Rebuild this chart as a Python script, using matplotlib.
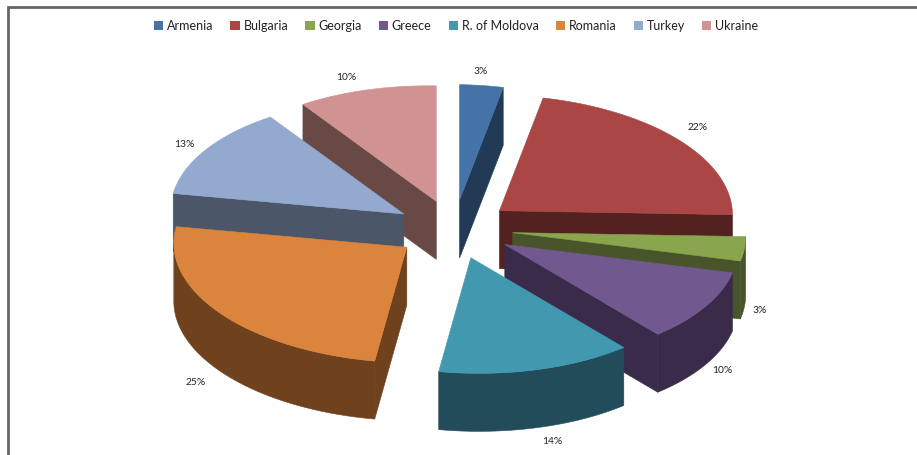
import numpy as np
import matplotlib
matplotlib.use("Agg")
import matplotlib.pyplot as plt
from matplotlib.patches import Polygon, Patch

countries = ["Armenia", "Bulgaria", "Georgia", "Greece", "R. of Moldova", "Romania", "Turkey", "Ukraine"]
shares = [3.0, 22.0, 3.4, 10.2, 13.6, 25.1, 13.0, 9.7]
top_colors = ["#4573A7", "#AA4644", "#89A54E", "#71588F", "#4298AF", "#DB843D", "#93A9CF", "#D19392"]
side_colors = ["#223A55", "#522120", "#48552A", "#3A2B4A", "#224C5A", "#6F411D", "#4B5668", "#684946"]
label_xy = [(481, 71.7), (698, 127.7), (760, 310.7), (722, 370.7), (552, 441.7), (196, 382.7), (184, 144.7), (346, 77.7)]

W, H = 917, 455
CX, CY = 454, 229.5
RX, RY = 233, 115.5
EXPLODE = 59
DEPTH = 58
SHEAR = 0.017

plt.rcParams["font.family"] = ["Lato", "DejaVu Sans"]
fig = plt.figure(figsize=(W / 100, H / 100), dpi=100)
ax = fig.add_axes([0, 0, 1, 1])
ax.set_xlim(0, W)
ax.set_ylim(H, 0)
ax.axis("off")

# chart frame (top and left edges visible)
ax.plot([7.5, 7.5, W], [H, 6.5, 6.5], color="#666666", lw=2.0, solid_joinstyle="miter", zorder=0)


def rim(apex, a0, a1, n=80):
    t = np.radians(np.linspace(a0, a1, n))
    dx = RX * np.sin(t)
    dy = -RY * np.cos(t) + SHEAR * dx
    return np.column_stack([apex[0] + dx, apex[1] + dy])


cum = np.cumsum([0] + shares) / sum(shares) * 360
slices = []
for i in range(len(shares)):
    a0, a1 = cum[i], cum[i + 1]
    mid = np.radians((a0 + a1) / 2)
    apex = (CX + EXPLODE * np.sin(mid), CY - 0.5 * EXPLODE * np.cos(mid))
    slices.append((a0, a1, apex))

# painter's order: furthest slices first
order = sorted(range(len(shares)), key=lambda k: slices[k][2][1])
z = 1
down = np.array([0, DEPTH])
for i in order:
    a0, a1, apex = slices[i]
    apex_arr = np.array(apex)
    top = rim(apex, a0, a1)
    sc = side_colors[i]
    faces = []
    if np.sin(np.radians(a0)) < -1e-6:   # start cut face
        p = top[0]
        faces.append(np.array([apex_arr, p, p + down, apex_arr + down]))
    if np.sin(np.radians(a1)) > 1e-6:    # end cut face
        p = top[-1]
        faces.append(np.array([apex_arr, p, p + down, apex_arr + down]))
    w0, w1 = max(a0, 90), min(a1, 270)
    if w1 > w0:                          # outer wall
        r = rim(apex, w0, w1)
        faces.append(np.vstack([r, (r + down)[::-1]]))
    for f in faces:
        ax.add_patch(Polygon(f, closed=True, facecolor=sc, edgecolor=sc, lw=0.4, zorder=z))
    ax.add_patch(Polygon(np.vstack([apex_arr, top]), closed=True, facecolor=top_colors[i],
                         edgecolor=top_colors[i], lw=0.4, zorder=z + 1))
    z += 2

for v, (x, y) in zip(shares, label_xy):
    ax.text(x, y, f"{v:.0f}%", ha="center", va="center", fontsize=7.4, color="#222222", zorder=50)

handles = [Patch(facecolor=c, edgecolor="none", label=n) for c, n in zip(top_colors, countries)]
ax.legend(handles=handles, ncol=8, loc="center", bbox_to_anchor=(456 / W, 1 - 25.5 / H),
          frameon=False, fontsize=9, handlelength=0.75, handleheight=0.75, handletextpad=0.3,
          columnspacing=1.36, borderpad=0, labelcolor="#222222")

fig.savefig("out.png", dpi=100)
